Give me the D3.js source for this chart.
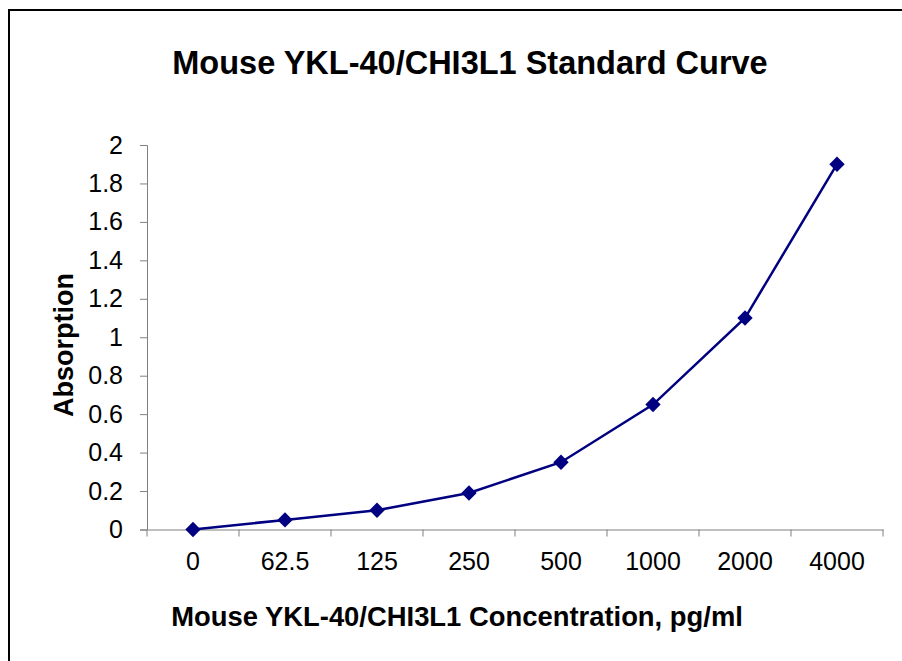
<!DOCTYPE html>
<html><head><meta charset="utf-8">
<script src="https://cdn.jsdelivr.net/npm/d3@7"></script>
<style>body{margin:0;background:#fff}svg{display:block}text{font-family:"Liberation Sans",Arial,sans-serif}</style>
</head><body>
<script>
const categories = ["0","62.5","125","250","500","1000","2000","4000"];
const values = [0, 0.05, 0.1, 0.19, 0.35, 0.65, 1.1, 1.9];
const yTicks = [0,0.2,0.4,0.6,0.8,1,1.2,1.4,1.6,1.8,2];
const title = "Mouse YKL-40/CHI3L1 Standard Curve";
const xTitle = "Mouse YKL-40/CHI3L1 Concentration, pg/ml";
const yTitle = "Absorption";

const W = 902, H = 661;
const svg = d3.select("body").append("svg").attr("width", W).attr("height", H);
svg.append("rect").attr("x",9).attr("y",10).attr("width",W).attr("height",H)
  .attr("fill","none").attr("stroke","#000").attr("stroke-width",2);

const m = {l:147, r:883, t:145, b:529.5};
const x = d3.scaleBand().domain(categories).range([m.l, m.r]);
const y = d3.scaleLinear().domain([0,2]).range([m.b, m.t]);

const gy = svg.append("g").attr("transform",`translate(${m.l},0)`)
  .call(d3.axisLeft(y).tickValues(yTicks).tickFormat(d3.format("~g")).tickSize(7).tickPadding(17));
const gx = svg.append("g").attr("transform",`translate(0,${m.b})`)
  .call(d3.axisBottom(x).tickSize(0).tickPadding(23));
const xt = d3.range(categories.length+1).map(i => m.l + i*x.step());
gx.selectAll("line.sep").data(xt).join("line").attr("class","sep")
  .attr("x1",d=>d).attr("x2",d=>d).attr("y1",0).attr("y2",7).attr("stroke","#808080");
[gx,gy].forEach(g=>{
  g.attr("font-size",25).attr("font-family","Liberation Sans, Arial, sans-serif");
  g.select(".domain").attr("stroke","#808080");
  g.selectAll(".tick line").attr("stroke","#808080");
  g.selectAll("text").attr("fill","#000");
});

const cx = d => x(d) + x.bandwidth()/2;
svg.append("path").datum(values)
  .attr("d", d3.line().x((d,i)=>cx(categories[i])).y(d=>y(d)))
  .attr("fill","none").attr("stroke","#000080").attr("stroke-width",2.5);
svg.selectAll("path.pt").data(values).join("path").attr("class","pt")
  .attr("d", d3.symbol(d3.symbolDiamond2, 150))
  .attr("transform",(d,i)=>`translate(${cx(categories[i])},${y(d)})`)
  .attr("fill","#000080");

svg.append("text").attr("x",470).attr("y",74).attr("text-anchor","middle")
  .attr("font-size",32.5).attr("font-weight","bold").text(title);
svg.append("text").attr("x",457).attr("y",626).attr("text-anchor","middle")
  .attr("font-size",27.4).attr("font-weight","bold").text(xTitle);
svg.append("text").attr("transform","translate(73,345) rotate(-90)").attr("text-anchor","middle")
  .attr("font-size",27).attr("font-weight","bold").text(yTitle);
</script>
</body></html>
